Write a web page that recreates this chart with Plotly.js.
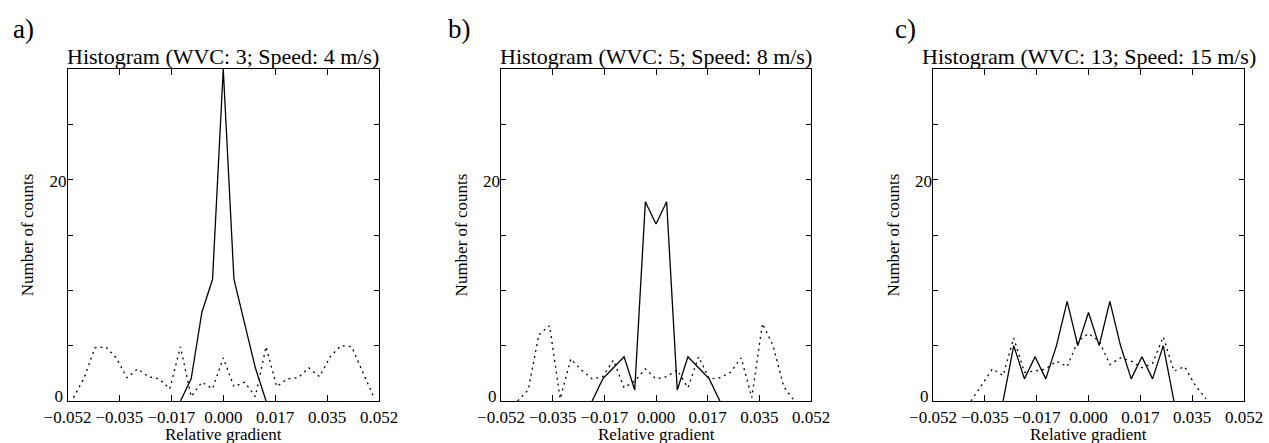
<!DOCTYPE html>
<html>
<head>
<meta charset="utf-8">
<script src="https://cdn.plot.ly/plotly-3.0.1.min.js"></script>
<style>html,body{margin:0;padding:0;background:#fff;}#chart{width:1269px;height:443px;}</style>
</head>
<body>
<div id="chart"></div>
<script>
// Histogram bin centres (relative gradient)
const binCenters = [-0.05, -0.04643, -0.04286, -0.03929, -0.03571, -0.03214, -0.02857, -0.025, -0.02143, -0.01786, -0.01429, -0.01071, -0.00714, -0.00357, 0,
  0.00357, 0.00714, 0.01071, 0.01429, 0.01786, 0.02143, 0.025, 0.02857, 0.03214, 0.03571, 0.03929, 0.04286, 0.04643, 0.05];

// Panel a) WVC 3, speed 4 m/s
const aSolid = [null,null,null,null,null,null,null,null,null,null, 0,2,8,11,30,11,7,3,0, null,null,null,null,null,null,null,null,null,null];
const aDotted = [0.3,2.1,4.8,4.9,3.9,2.1,2.9,2.2,2.0,1.1,4.9,0.4,1.7,1.1,3.9,1.3,1.7,0.4,4.9,1.3,2.0,2.1,3.0,2.2,4.0,5.0,4.9,2.7,0.5];

// Panel b) WVC 5, speed 8 m/s
const bSolid = [null,null,null,null,null,null,null,null, 0,2,3,4,1,18,16,18,1,4,3,2,0, null,null,null,null,null,null,null,null];
const bDotted = [null,0,1.0,6.0,6.8,0.2,3.8,2.8,2.0,2.2,3.7,1.2,1.8,2.9,2.0,2.2,2.8,1.2,4.0,2.0,2.1,2.6,3.9,0.3,7.0,5.0,1.3,0,null];

// Panel c) WVC 13, speed 15 m/s
const cSolid = [null,null,null,null,null,null, 0,5,2,4,2,5,9,5,8,5,9,5,2,4,2,5,0, null,null,null,null,null,null];
const cDotted = [null,null,null,0,1.5,2.9,2.3,5.7,2.6,2.7,2.9,3.6,3.1,5.4,6.1,5.4,3.3,3.9,3.6,3.0,3.4,5.8,2.7,3.1,1.4,0.2,null,null,null];

const panelTitles = ['Histogram (WVC: 3; Speed: 4 m/s)', 'Histogram (WVC: 5; Speed: 8 m/s)', 'Histogram (WVC: 13; Speed: 15 m/s)'];
const panelLabels = ['a)', 'b)', 'c)'];
const xTickVals = [-0.052, -0.03467, -0.01733, 0, 0.01733, 0.03467, 0.052];
const xTickText = ['\u22120.052', '\u22120.035', '\u22120.017', '0.000', '0.017', '0.035', '0.052'];
const yTickVals = [0, 5, 10, 15, 20, 25];
const yTickText = ['0', '', '', '', '', ''];
const yUpperTickVals = [20];
const yUpperTickText = ['20'];
const xLabel = 'Relative gradient';
const yLabel = 'Number of counts';

const W = 1269, H = 443;
const FONT = 'Liberation Serif, Times New Roman, serif';
const plotLeftPx = [67.5, 501, 933];
const plotRightPx = [379, 811, 1244];
const plotTopPx = 69, plotBottomPx = 401;
const labelLeftPx = [11, 446, 893];

const solids = [aSolid, bSolid, cSolid];
const dotteds = [aDotted, bDotted, cDotted];

const data = [];
const layout = {
  width: W, height: H,
  margin: {l: 0, r: 0, t: 0, b: 0},
  paper_bgcolor: '#fff', plot_bgcolor: '#fff',
  showlegend: false,
  font: {family: FONT, color: '#000', size: 17},
  annotations: []
};

for (let i = 0; i < 3; i++) {
  const sfx = i === 0 ? '' : String(i + 1);
  const overlay = String(i + 4);
  // dotted series drawn on the overlay y axis (identical fixed range 0-30)
  data.push({x: binCenters, y: dotteds[i], type: 'scatter', mode: 'lines',
    line: {color: '#000', width: 1.3, dash: '2px,4px'}, xaxis: 'x' + sfx, yaxis: 'y' + overlay, hoverinfo: 'skip'});
  data.push({x: binCenters, y: solids[i], type: 'scatter', mode: 'lines',
    line: {color: '#000', width: 1.3}, xaxis: 'x' + sfx, yaxis: 'y' + sfx, hoverinfo: 'skip'});

  layout['xaxis' + sfx] = {
    domain: [plotLeftPx[i] / W, plotRightPx[i] / W],
    anchor: 'y' + sfx,
    range: [-0.052, 0.052],
    showline: true, mirror: 'ticks', linecolor: '#000', linewidth: 1,
    ticks: 'inside', ticklen: 6, tickcolor: '#000', tickwidth: 1,
    tickvals: xTickVals, ticktext: xTickText, tickangle: 0,
    ticklabelstandoff: 1,
    tickfont: {family: FONT, size: 17, color: '#000'},
    showgrid: false, zeroline: false, fixedrange: true
  };
  layout['yaxis' + sfx] = {
    domain: [(H - plotBottomPx) / H, (H - plotTopPx) / H],
    anchor: 'x' + sfx,
    range: [0, 30],
    showline: true, mirror: 'ticks', linecolor: '#000', linewidth: 1,
    ticks: 'inside', ticklen: 5, tickcolor: '#000', tickwidth: 1,
    tickvals: yTickVals, ticktext: yTickText, tickangle: 0,
    ticklabelshift: -5,
    tickfont: {family: FONT, size: 17, color: '#000'},
    showgrid: false, zeroline: false, fixedrange: true,
    title: {text: yLabel, font: {family: FONT, size: 17, color: '#000'}, standoff: 16}
  };
  // overlay axis carrying the upper tick label
  layout['yaxis' + overlay] = {
    overlaying: 'y' + sfx, anchor: 'x' + sfx, side: 'left',
    range: [0, 30],
    showline: false, ticks: '', showgrid: false, zeroline: false, fixedrange: true,
    tickvals: yUpperTickVals, ticktext: yUpperTickText, tickangle: 0,
    ticklabelshift: 1,
    tickfont: {family: FONT, size: 17, color: '#000'}
  };
  layout.annotations.push({
    text: xLabel, xref: 'paper', yref: 'paper',
    x: (plotLeftPx[i] + plotRightPx[i]) / 2 / W, y: (H - 434) / H,
    xanchor: 'center', yanchor: 'middle', showarrow: false,
    font: {family: FONT, size: 17, color: '#000'}
  });
  layout.annotations.push({
    text: panelTitles[i], xref: 'paper', yref: 'paper',
    x: (plotLeftPx[i] + plotRightPx[i]) / 2 / W, y: (H - 56) / H,
    xanchor: 'center', yanchor: 'middle', showarrow: false,
    font: {family: FONT, size: 22, color: '#000'}
  });
  layout.annotations.push({
    text: panelLabels[i], xref: 'paper', yref: 'paper',
    x: labelLeftPx[i] / W, y: (H - 29) / H,
    xanchor: 'left', yanchor: 'middle', showarrow: false,
    font: {family: FONT, size: 27, color: '#000'}
  });
}

Plotly.newPlot('chart', data, layout, {displayModeBar: false, staticPlot: true});
</script>
</body>
</html>
